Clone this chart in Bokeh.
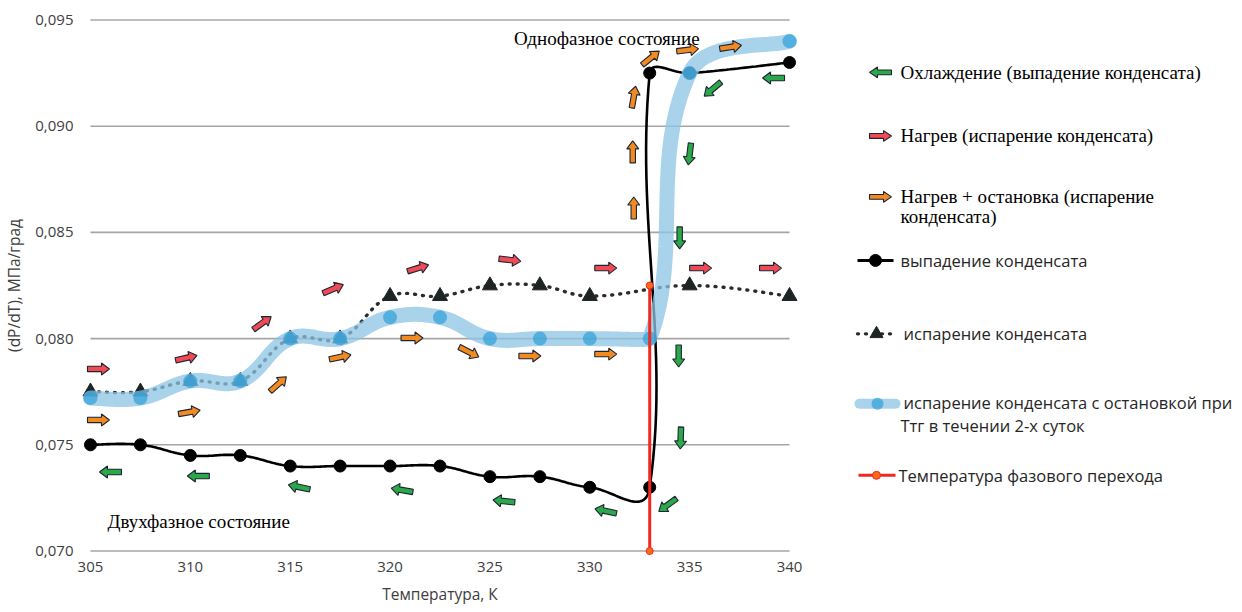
import numpy as np
from bokeh.plotting import figure
from bokeh.layouts import row
from bokeh.models import Range1d, FixedTicker, Label
from bokeh.core.properties import value
from bokeh.embed import file_html
from bokeh.resources import INLINE

# ---------------- data ----------------
temp_cond = [305, 307.5, 310, 312.5, 315, 317.5, 320, 322.5, 325, 327.5, 330, 333, 333, 335, 340]
dpdt_cond = [0.0750, 0.0750, 0.0745, 0.0745, 0.0740, 0.0740, 0.0740, 0.0740, 0.0735, 0.0735,
             0.0730, 0.0730, 0.0925, 0.0925, 0.0930]

temp_evap = [305, 307.5, 310, 312.5, 315, 317.5, 320, 322.5, 325, 327.5, 330, 335, 340]
dpdt_evap = [0.0775, 0.0775, 0.0780, 0.0780, 0.0800, 0.0800, 0.0820, 0.0820, 0.0825, 0.0825,
             0.0820, 0.0825, 0.0820]

temp_stop = [305, 307.5, 310, 312.5, 315, 317.5, 320, 322.5, 325, 327.5, 330, 333, 335, 340]
dpdt_stop = [0.0772, 0.0772, 0.0780, 0.0780, 0.0800, 0.0800, 0.0810, 0.0810, 0.0800, 0.0800,
             0.0800, 0.0800, 0.0925, 0.0940]

temp_phase = [333, 333]
dpdt_phase = [0.0700, 0.0825]

x_ticks = [305, 310, 315, 320, 325, 330, 335, 340]
y_ticks = [0.070, 0.075, 0.080, 0.085, 0.090, 0.095]
y_tick_labels = ["0,070", "0,075", "0,080", "0,085", "0,090", "0,095"]

# direction arrows (centre temperature, centre dP/dT, direction in degrees)
cool_x = [306.0, 310.4, 315.45, 320.6, 325.7, 330.8, 333.9, 334.55, 334.45, 334.5, 335.0, 336.15, 339.2]
cool_y = [0.07372, 0.07353, 0.07301, 0.07287, 0.07235, 0.07188, 0.07217, 0.07532, 0.07918,
          0.08474, 0.08869, 0.09175, 0.09227]
cool_a = [180, 180, 168, 170, 174, 168, 216, 268, 270, 270, 263, 220, 180]

heat_x = [305.4, 309.8, 313.6, 317.15, 321.4, 326.0, 330.8, 335.55, 339.05]
heat_y = [0.07857, 0.07909, 0.08073, 0.08234, 0.08332, 0.08370, 0.08332, 0.08332, 0.08332]
heat_a = [0, 13, 36, 23, 17, -7, 0, 0, 0]

hold_x = [305.4, 309.95, 314.4, 317.5, 321.1, 323.95, 327.0, 330.8, 332.2, 332.15, 332.2, 333.05, 334.9, 337.05]
hold_y = [0.07617, 0.07654, 0.07786, 0.07913, 0.08003, 0.07937, 0.07918, 0.07927, 0.08615,
          0.08879, 0.09137, 0.09321, 0.09359, 0.09373]
hold_a = [0, 10, 42, 12, 0, -27, 0, 0, 90, 90, 80, 39, 7, 9]

legend_texts = ["Охлаждение (выпадение конденсата)",
                "Нагрев (испарение конденсата)",
                "Нагрев + остановка (испарение", "конденсата)",
                "выпадение конденсата",
                "испарение конденсата",
                "испарение конденсата с остановкой при", "Ттг в течении 2-х суток",
                "Температура фазового перехода"]

# ---------------- styling constants ----------------
X0, X1 = 304.4, 340.6
Y0, Y1 = 0.0696, 0.0954
FW, FH = 724, 548
SX = FW / (X1 - X0)     # px per K
SY = FH / (Y1 - Y0)     # px per unit
C_GREEN, C_RED, C_ORANGE = "#2aa84a", "#ef4a55", "#f28a22"
C_EDGE = "#1c2533"
C_BAND, C_DOT = "#8cc3e4", "#2f9fd8"
SERIF, SANS = "Liberation Serif", "Open Sans"
C_AXIS = "#404040"


def smooth(xs, ys, k=0.4, seg_k=None, n=30):
    seg_k = seg_k or {}
    P = np.column_stack([(np.asarray(xs, float) - X0) * SX, (np.asarray(ys, float) - Y0) * SY])
    m = len(P)
    d = np.linalg.norm(np.diff(P, axis=0), axis=1)
    T = np.zeros_like(P)
    for i in range(m):
        if i == 0:
            T[i] = 0.5 * (P[1] - P[0]) / d[0]
        elif i == m - 1:
            T[i] = 0.5 * (P[-1] - P[-2]) / d[-1]
        else:
            T[i] = (P[i + 1] - P[i - 1]) / (d[i - 1] + d[i])
    t = np.linspace(0, 1, n)[1:]
    out = [P[0]]
    for i in range(m - 1):
        k1, k2 = seg_k.get(i, (k, k))
        c1 = P[i] + T[i] * d[i] * k1
        c2 = P[i + 1] - T[i + 1] * d[i] * k2
        b = (((1 - t) ** 3)[:, None] * P[i] + (3 * (1 - t) ** 2 * t)[:, None] * c1 +
             (3 * (1 - t) * t ** 2)[:, None] * c2 + (t ** 3)[:, None] * P[i + 1])
        out.extend(b)
    out = np.array(out)
    return out[:, 0] / SX + X0, out[:, 1] / SY + Y0


def arrow_shape(cx, cy, ang, sx, sy, L=22.0, hw=2.7, hl=8.0, hh=6.0):
    pts = np.array([(-L / 2, -hw), (L / 2 - hl, -hw), (L / 2 - hl, -hh), (L / 2, 0),
                    (L / 2 - hl, hh), (L / 2 - hl, hw), (-L / 2, hw)])
    a = np.radians(ang)
    px = pts[:, 0] * np.cos(a) - pts[:, 1] * np.sin(a)
    py = pts[:, 0] * np.sin(a) + pts[:, 1] * np.cos(a)
    return list(cx + px / sx), list(cy + py / sy)


def arrows(fig, xs, ys, angs, color, sx, sy):
    ax, ay = [], []
    for x, y, a in zip(xs, ys, angs):
        px, py = arrow_shape(x, y, a, sx, sy)
        ax.append(px)
        ay.append(py)
    fig.patches(ax, ay, fill_color=color, line_color=C_EDGE, line_width=1.1)


# ---------------- main figure ----------------
p = figure(width=809, height=612, x_range=Range1d(X0, X1), y_range=Range1d(Y0, Y1),
           toolbar_location=None, output_backend="svg",
           min_border_left=77, min_border_right=8, min_border_top=11, min_border_bottom=53)
p.outline_line_color = None
p.grid.visible = False
p.background_fill_color = "white"

for ax in (p.xaxis[0], p.yaxis[0]):
    ax.axis_line_color = None
    ax.major_tick_line_color = None
    ax.minor_tick_line_color = None
    ax.major_tick_out = 0
    ax.major_label_text_font = SANS
    ax.major_label_text_font_size = "15px"
    ax.major_label_text_color = C_AXIS
    ax.axis_label_text_font = SANS
    ax.axis_label_text_font_size = "15.5px"
    ax.axis_label_text_font_style = "normal"
    ax.axis_label_text_color = C_AXIS

p.xaxis.ticker = FixedTicker(ticks=x_ticks)
p.yaxis.ticker = FixedTicker(ticks=y_ticks)
p.yaxis.major_label_overrides = {t: s for t, s in zip(y_ticks, y_tick_labels)}
p.xaxis.major_label_standoff = 2
p.yaxis.major_label_standoff = 5
p.xaxis.axis_label = "Температура, К"
p.yaxis.axis_label = "(dP/dT), МПа/град"
p.xaxis.axis_label_standoff = 8
p.yaxis.axis_label_standoff = 7

# horizontal grid lines across the data span
p.segment(x0=[min(x_ticks)] * len(y_ticks), x1=[max(x_ticks)] * len(y_ticks),
          y0=y_ticks, y1=y_ticks, line_color="#a6a6a6", line_width=1.6)

# condensation (black)
cx, cy = smooth(temp_cond, dpdt_cond, k=0.4, seg_k={10: (0.4, 0.6)})
p.line(cx, cy, line_color="black", line_width=2.6)
p.scatter(temp_cond, dpdt_cond, marker="circle", size=12, fill_color="black", line_color="black")

# evaporation (dotted, triangles)
ex, ey = smooth(temp_evap, dpdt_evap)
p.line(ex, ey, line_color="#2b2b2b", line_width=3.4, line_dash="1 7", line_cap="round")
p.scatter(temp_evap, dpdt_evap, marker="triangle", size=15, fill_color="#1e2424", line_color="#1e2424")

# evaporation with hold (blue band)
sx_, sy_ = smooth(temp_stop, dpdt_stop, k=0.4, seg_k={10: (0.4, 0.04)})
p.line(sx_, sy_, line_color=C_BAND, line_width=15, line_alpha=0.75, line_cap="round")
p.scatter(temp_stop, dpdt_stop, marker="circle", size=14, fill_color=C_DOT, fill_alpha=0.7,
          line_color=None)

# phase transition temperature (red)
p.line(temp_phase, dpdt_phase, line_color="#f0281e", line_width=3)
p.scatter(temp_phase, dpdt_phase, marker="circle", size=7, fill_color="#ff6a1a", line_color="#f0281e")

# arrows
arrows(p, cool_x, cool_y, cool_a, C_GREEN, SX, SY)
arrows(p, heat_x, heat_y, heat_a, C_RED, SX, SY)
arrows(p, hold_x, hold_y, hold_a, C_ORANGE, SX, SY)

p.add_layout(Label(x=326.2, y=0.09415, text="Однофазное состояние", text_font=SERIF,
                   text_font_size="19px", text_color="black", text_baseline="middle"))
p.add_layout(Label(x=305.85, y=0.07141, text="Двухфазное состояние", text_font=SERIF,
                   text_font_size="19px", text_color="black", text_baseline="middle"))

# ---------------- legend figure (pixel coordinates) ----------------
q = figure(width=433, height=612, x_range=Range1d(809, 1242), y_range=Range1d(612, 0),
           toolbar_location=None, output_backend="svg", min_border=0,
           x_axis_location=None, y_axis_location=None)
q.outline_line_color = None
q.grid.visible = False

arrows(q, [880], [68], [180], C_GREEN, 1, -1)
arrows(q, [880], [139], [0], C_RED, 1, -1)
arrows(q, [880], [207], [0], C_ORANGE, 1, -1)

q.text(x=[900, 900, 900, 900], y=[68, 139, 207, 229], text=legend_texts[0:4],
       text_font=value(SERIF), text_font_size=value("19px"), text_color="black",
       text_baseline="middle", text_align="left")

# line-series keys
q.line([857, 893], [278, 278], line_color="black", line_width=3)
q.scatter([875], [278], marker="circle", size=12, fill_color="black", line_color="black")
q.line([857, 893], [360, 360], line_color="#2b2b2b", line_width=3.4, line_dash="1 7", line_cap="round")
q.scatter([876], [360], marker="triangle", size=13, fill_color="#1e2424", line_color="#1e2424")
q.line([859, 895], [438, 438], line_color=C_BAND, line_width=10, line_alpha=0.75, line_cap="round")
q.scatter([877], [438], marker="circle", size=12, fill_color=C_DOT, fill_alpha=0.7, line_color=None)
q.line([858, 895], [518, 518], line_color="#f0281e", line_width=3)
q.scatter([876], [518], marker="circle", size=8, fill_color="#ff6a1a", line_color="#f0281e")

q.text(x=[900, 903, 903, 900, 898], y=[278, 360, 437, 462, 518], text=legend_texts[4:9],
       text_font=value(SANS), text_font_size=value("16.5px"), text_color="#262626",
       text_baseline="middle", text_align="left")

layout = row(p, q)
open("out.html", "w").write(file_html(layout, INLINE))
